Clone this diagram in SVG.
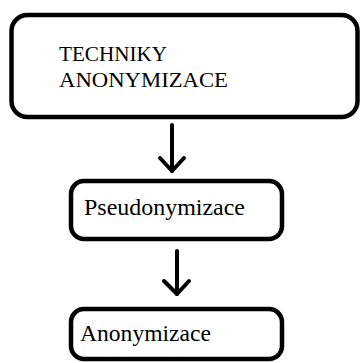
<svg xmlns="http://www.w3.org/2000/svg" width="361" height="363" viewBox="0 0 361 363">
<style>
.box{fill:#fff;stroke:#000;stroke-width:4.5}
.t{font-family:"Liberation Serif","Times New Roman",serif;fill:#000}
.c{fill:none;stroke:#000;stroke-width:4;stroke-linecap:round;stroke-linejoin:round}
</style>
<rect width="361" height="363" fill="#fff"/>
<g id="techniky">
<rect class="box" x="11.5" y="15" width="346" height="102" rx="16"/>
<text class="t" x="59" y="61" font-size="21" textLength="108" lengthAdjust="spacingAndGlyphs">TECHNIKY</text>
<text class="t" x="59" y="87" font-size="21" textLength="169" lengthAdjust="spacingAndGlyphs">ANONYMIZACE</text>
</g>
<g id="pseudonymizace">
<rect class="box" x="71" y="181" width="211" height="58" rx="13"/>
<text class="t" x="84" y="215" font-size="23.5" textLength="161" lengthAdjust="spacingAndGlyphs">Pseudonymizace</text>
</g>
<g id="anonymizace">
<rect class="box" x="71" y="309" width="211" height="50" rx="13"/>
<text class="t" x="80" y="341" font-size="23.5" textLength="131" lengthAdjust="spacingAndGlyphs">Anonymizace</text>
</g>
<g id="connectors">
<line class="c" x1="172" y1="125" x2="172" y2="171"/>
<polyline class="c" points="160,158 172,171 184,158"/>
<line class="c" x1="177" y1="251" x2="177" y2="294"/>
<polyline class="c" points="164,281 177,294 189,281"/>
</g>
</svg>
